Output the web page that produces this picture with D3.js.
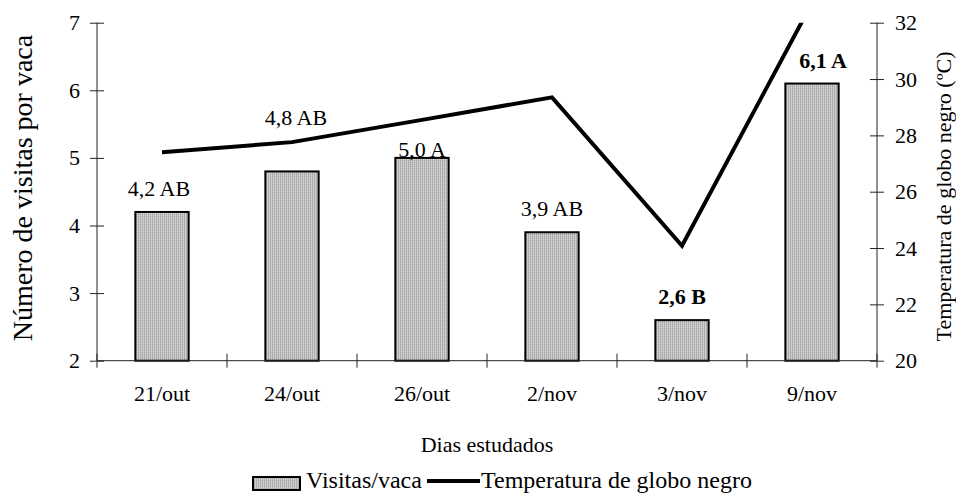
<!DOCTYPE html>
<html>
<head>
<meta charset="utf-8">
<script src="https://cdn.jsdelivr.net/npm/d3@7"></script>
<style>
  html, body { margin: 0; padding: 0; background: #fff; }
  svg { display: block; }
  text { font-family: "Liberation Serif", "Times New Roman", serif; fill: #000; }
</style>
</head>
<body>
<svg id="chart" width="956" height="493"></svg>
<script>
// Days studied
const days = ["21/out", "24/out", "26/out", "2/nov", "3/nov", "9/nov"];
// Visits per cow (bars)
const visits = [4.2, 4.8, 5.0, 3.9, 2.6, 6.1];
// Mean-comparison letters shown above each bar
const letters = ["AB", "AB", "A", "AB", "B", "A"];
// Black globe temperature, ºC (line)
const globeTemp = [27.4, 27.76, 28.55, 29.35, 24.08, 32.7];
// Axis ticks
const leftTicks = [2, 3, 4, 5, 6, 7];
const rightTicks = [20, 22, 24, 26, 28, 30, 32];

// Labels drawn in bold, and hand nudges (px) applied to some value labels
const boldLabel = [false, false, false, false, true, true];
const labelNudge = [[-3, 0], [4, -30], [0, 15], [0, 0], [0, 0], [11, 0]];

const svg = d3.select("#chart");
const m = { left: 97, right: 877, top: 22.7, bottom: 360.7 };

const x = d3.scaleBand().domain(days).range([m.left, m.right])
  .paddingInner(0.59).paddingOuter(0.295);
const yL = d3.scaleLinear().domain([2, 7]).range([m.bottom, m.top]);
const yR = d3.scaleLinear().domain([20, 32]).range([m.bottom, m.top]);

// Fine grey hatching used for the bars
const defs = svg.append("defs");
const pat = defs.append("pattern").attr("id", "hatch")
  .attr("patternUnits", "userSpaceOnUse").attr("width", 2).attr("height", 2);
pat.append("rect").attr("width", 2).attr("height", 2).attr("fill", "#d8d8d8");
pat.append("rect").attr("width", 1).attr("height", 2).attr("fill", "#adadad");
pat.append("rect").attr("x", 1).attr("width", 1).attr("height", 1).attr("fill", "#c4c4c4");

defs.append("clipPath").attr("id", "plotClip").append("rect")
  .attr("x", m.left).attr("y", m.top)
  .attr("width", m.right - m.left).attr("height", m.bottom - m.top);

const fs = 22;

// Bars
svg.append("g").selectAll("rect").data(visits).join("rect")
  .attr("x", (d, i) => x(days[i]))
  .attr("y", d => yL(d))
  .attr("width", x.bandwidth())
  .attr("height", d => yL(2) - yL(d))
  .attr("fill", "url(#hatch)")
  .attr("stroke", "#000").attr("stroke-width", 2);

// Axes
const axisColor = "#222";
const leftAxis = svg.append("g").attr("transform", `translate(${m.left},0)`)
  .call(d3.axisLeft(yL).tickValues(leftTicks).tickFormat(d3.format("d"))
    .tickSize(7).tickPadding(10));
const rightAxis = svg.append("g").attr("transform", `translate(${m.right},0)`)
  .call(d3.axisRight(yR).tickValues(rightTicks).tickFormat(d3.format("d"))
    .tickSize(7).tickPadding(11));
[leftAxis, rightAxis].forEach(g => {
  g.select(".domain").attr("stroke", axisColor).attr("d", `M0,${m.top}V${m.bottom}`);
  g.selectAll(".tick line").attr("stroke", axisColor).attr("x1", -7).attr("x2", 7);
  g.selectAll(".tick text").attr("font-family", "Liberation Serif").attr("font-size", fs);
});

// Category axis: ticks sit on the band boundaries, labels at band centres
const boundaries = d3.range(days.length + 1).map(i => m.left + i * x.step());
const bottom = svg.append("g");
bottom.append("line").attr("x1", m.left).attr("x2", m.right)
  .attr("y1", m.bottom).attr("y2", m.bottom).attr("stroke", axisColor);
bottom.selectAll("line.tk").data(boundaries).join("line").attr("class", "tk")
  .attr("x1", d => d).attr("x2", d => d)
  .attr("y1", m.bottom - 7).attr("y2", m.bottom + 7).attr("stroke", axisColor);
bottom.selectAll("text").data(days).join("text")
  .attr("x", d => x(d) + x.bandwidth() / 2).attr("y", 401)
  .attr("text-anchor", "middle").attr("font-size", fs).text(d => d);

// Temperature line
svg.append("path").datum(globeTemp)
  .attr("clip-path", "url(#plotClip)")
  .attr("fill", "none").attr("stroke", "#000").attr("stroke-width", 4)
  .attr("stroke-linejoin", "miter")
  .attr("d", d3.line().x((d, i) => x(days[i]) + x.bandwidth() / 2).y(d => yR(d)));

// Value labels
svg.append("g").selectAll("text").data(visits).join("text")
  .attr("x", (d, i) => x(days[i]) + x.bandwidth() / 2 + labelNudge[i][0])
  .attr("y", (d, i) => yL(d) - 16 + labelNudge[i][1])
  .attr("text-anchor", "middle").attr("font-size", fs)
  .attr("font-weight", (d, i) => boldLabel[i] ? "bold" : "normal")
  .text((d, i) => d3.format(".1f")(d).replace(".", ",") + " " + letters[i]);

// Axis titles
svg.append("text").attr("transform", "translate(32,188) rotate(-90)")
  .attr("text-anchor", "middle").attr("font-size", 28).text("Número de visitas por vaca");
svg.append("text").attr("transform", "translate(951,196.5) rotate(-90)")
  .attr("text-anchor", "middle").attr("font-size", fs).text("Temperatura de globo negro (ºC)");
svg.append("text").attr("x", 487).attr("y", 452)
  .attr("text-anchor", "middle").attr("font-size", fs).text("Dias estudados");

// Legend
const lfs = 24;
const lg = svg.append("g");
lg.append("rect").attr("x", 253).attr("y", 477).attr("width", 47).attr("height", 13)
  .attr("fill", "url(#hatch)").attr("stroke", "#000").attr("stroke-width", 2);
lg.append("text").attr("x", 306).attr("y", 488).attr("font-size", lfs).text("Visitas/vaca");
lg.append("line").attr("x1", 427).attr("x2", 480).attr("y1", 481).attr("y2", 481)
  .attr("stroke", "#000").attr("stroke-width", 4);
lg.append("text").attr("x", 481).attr("y", 488).attr("font-size", lfs).text("Temperatura de globo negro");
</script>
</body>
</html>
